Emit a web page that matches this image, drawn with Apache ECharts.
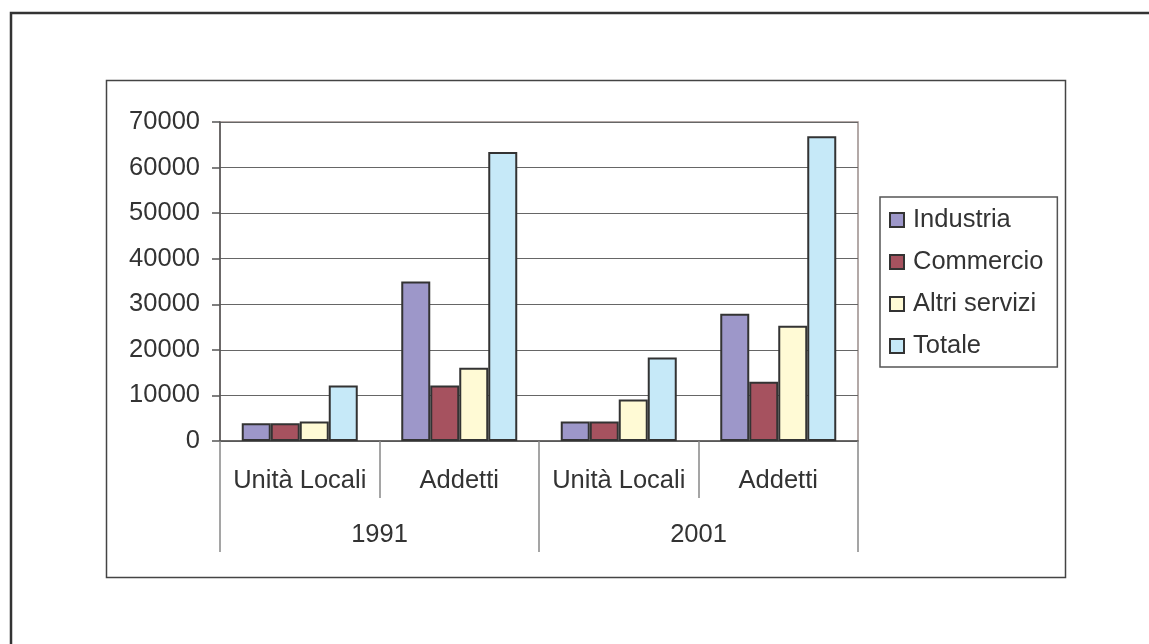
<!DOCTYPE html>
<html>
<head>
<meta charset="utf-8">
<script src="https://cdn.jsdelivr.net/npm/echarts@6/dist/echarts.min.js"></script>
<style>
  html, body { margin: 0; padding: 0; background: #fff; }
  #chart { width: 1149px; height: 644px; }
</style>
</head>
<body>
<div id="chart"></div>
<script>
// Unità locali e addetti per settore, censimenti 1991 e 2001
const categories = ['Unità Locali', 'Addetti', 'Unità Locali', 'Addetti'];
const years = ['1991', '2001'];
const seriesNames = ['Industria', 'Commercio', 'Altri servizi', 'Totale'];
const industria = [3900, 35000, 4300, 27900];
const commercio = [3900, 12200, 4300, 13000];
const altriServizi = [4300, 16100, 9100, 25300];
const totale = [12200, 63400, 18300, 66900];
const yTicks = [0, 10000, 20000, 30000, 40000, 50000, 60000, 70000];

const colors = ['#9d97c9', '#a6525f', '#fffad5', '#c6e9f8'];
const seriesValues = [industria, commercio, altriServizi, totale];

const FONT = '"Liberation Sans", Arial, sans-serif';
const TEXT = '#333333';
const FS = 25.5;

const chart = echarts.init(document.getElementById('chart'), null, { renderer: 'canvas' });

chart.setOption({
  animation: false,
  backgroundColor: '#ffffff',
  textStyle: { fontFamily: FONT, color: TEXT },
  graphic: [
    // outer page frame
    { type: 'rect', shape: { x: 11, y: 13, width: 1160, height: 660 },
      style: { fill: 'none', stroke: '#333', lineWidth: 2.5 }, z: 0 },
    // chart area frame
    { type: 'rect', shape: { x: 106.5, y: 80.5, width: 959, height: 497 },
      style: { fill: 'none', stroke: '#444', lineWidth: 1.5 }, z: 0 }
  ],
  grid: {
    left: 220, right: 291, top: 122, bottom: 203,
    show: true, borderColor: '#9a8d8a', borderWidth: 1.5, backgroundColor: 'transparent'
  },
  legend: {
    data: seriesNames,
    orient: 'vertical',
    left: 880, top: 197,
    padding: [10, 14, 8, 9],
    itemWidth: 14, itemHeight: 14, itemGap: 16,
    icon: 'rect',
    borderColor: '#555', borderWidth: 1.5,
    textStyle: { fontFamily: FONT, fontSize: FS, color: TEXT, padding: [0, 0, 0, 4] }
  },
  xAxis: [
    {
      type: 'category',
      data: categories,
      position: 'bottom',
      axisLine: { show: true, lineStyle: { color: '#555', width: 1.5 } },
      axisTick: { show: true, interval: 0, length: 57, alignWithLabel: false,
                  lineStyle: { color: '#888', width: 1.5 } },
      axisLabel: { interval: 0, margin: 27, fontFamily: FONT, fontSize: FS, color: TEXT }
    },
    {
      type: 'category',
      data: years,
      position: 'bottom',
      axisLine: { show: false },
      axisTick: { show: true, interval: 0, length: 111,
                  lineStyle: { color: '#888', width: 1.5 } },
      axisLabel: { interval: 0, margin: 81, fontFamily: FONT, fontSize: FS, color: TEXT }
    }
  ],
  yAxis: {
    type: 'value',
    min: yTicks[0], max: yTicks[yTicks.length - 1], interval: 10000,
    axisLine: { show: true, lineStyle: { color: '#555', width: 1.5 } },
    axisTick: { show: true, length: 8, lineStyle: { color: '#555', width: 1.5 } },
    axisLabel: { margin: 20, fontFamily: FONT, fontSize: FS, color: TEXT,
                 formatter: (v) => String(v) },
    splitLine: { show: true, lineStyle: { color: '#666', width: 1.2 } }
  },
  series: seriesNames.map((name, i) => ({
    name: name,
    type: 'bar',
    xAxisIndex: 0,
    data: seriesValues[i],
    barWidth: 29,
    barGap: '0%',
    itemStyle: { color: colors[i], borderColor: '#333', borderWidth: 2 }
  }))
});
</script>
</body>
</html>
